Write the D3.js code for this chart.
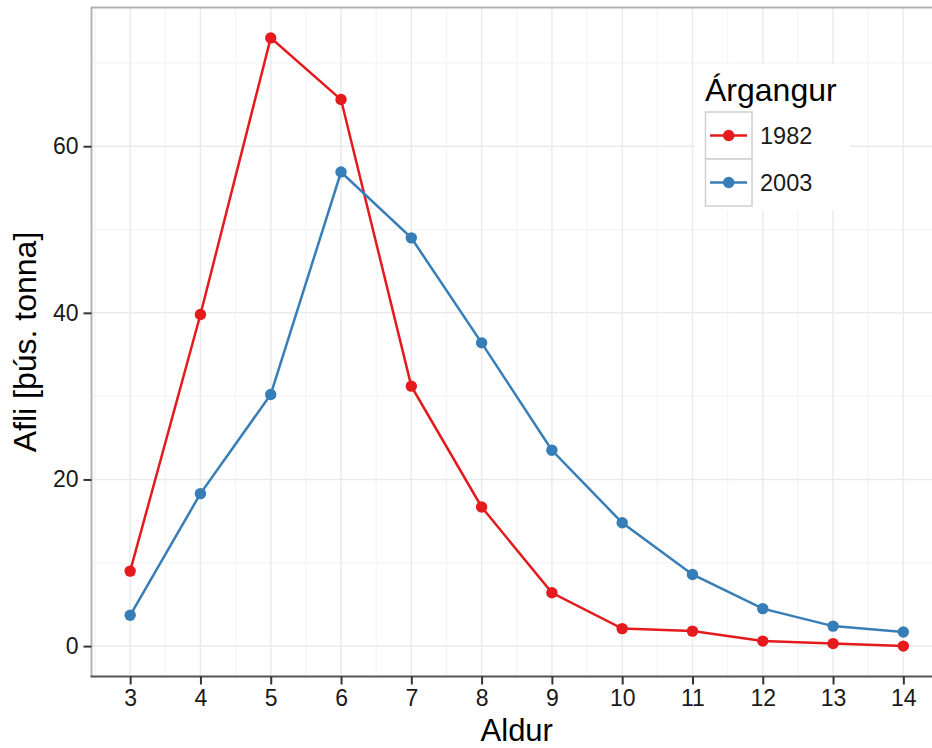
<!DOCTYPE html>
<html>
<head>
<meta charset="utf-8">
<script src="https://cdn.jsdelivr.net/npm/d3@7"></script>
<style>
	body { margin: 0; background: #fff; }
	#viz text { font-family: "Liberation Sans", Arial, sans-serif; }
</style>
</head>
<body>
<div id="viz"></div>
<script>
"use strict";

var ages = [3, 4, 5, 6, 7, 8, 9, 10, 11, 12, 13, 14];
var catch1982 = [9.0, 39.8, 73.0, 65.6, 31.2, 16.7, 6.4, 2.1, 1.8, 0.6, 0.3, 0.0];
var catch2003 = [3.7, 18.3, 30.2, 56.9, 49.0, 36.4, 23.5, 14.8, 8.6, 4.5, 2.4, 1.7];
var yearClasses = ["1982", "2003"];
var yTicks = [0, 20, 40, 60];
var yMinor = [10, 30, 50, 70];

var width = 932,
	height = 748,
	colors = ["#E41A1C", "#377EB8"],
	series = [catch1982, catch2003];

var svg = d3.select("#viz")
	.append("svg")
	.attr("width", width)
	.attr("height", height)

// panel runs past the right edge, like the original image
var x = d3.scaleLinear().domain([2.45, 14.55]).range([91.5, 942]);
var y = d3.scaleLinear().domain([-3.65, 76.65]).range([676.5, 7.5]);

var panel = svg.append("g");

panel.append("rect")
	.attr("x", x.range()[0])
	.attr("y", y.range()[1])
	.attr("width", x.range()[1] - x.range()[0])
	.attr("height", y.range()[0] - y.range()[1])
	.attr("fill", "#fff")

var xMinor = ages.map(function(a) { return a + 0.5 }).concat([2.5]);

panel.selectAll("line.minor-x")
	.data(xMinor)
	.enter().append("line")
	.attr("x1", function(d) { return x(d) })
	.attr("x2", function(d) { return x(d) })
	.attr("y1", y.range()[0])
	.attr("y2", y.range()[1])
	.attr("stroke", "#f5f5f5")
	.attr("stroke-width", 1.3)

panel.selectAll("line.minor-y")
	.data(yMinor)
	.enter().append("line")
	.attr("x1", x.range()[0])
	.attr("x2", x.range()[1])
	.attr("y1", function(d) { return y(d) })
	.attr("y2", function(d) { return y(d) })
	.attr("stroke", "#f5f5f5")
	.attr("stroke-width", 1.3)

panel.selectAll("line.major-x")
	.data(ages)
	.enter().append("line")
	.attr("x1", function(d) { return x(d) })
	.attr("x2", function(d) { return x(d) })
	.attr("y1", y.range()[0])
	.attr("y2", y.range()[1])
	.attr("stroke", "#ebebeb")
	.attr("stroke-width", 1.5)

panel.selectAll("line.major-y")
	.data(yTicks)
	.enter().append("line")
	.attr("x1", x.range()[0])
	.attr("x2", x.range()[1])
	.attr("y1", function(d) { return y(d) })
	.attr("y2", function(d) { return y(d) })
	.attr("stroke", "#ebebeb")
	.attr("stroke-width", 1.5)

// lines and points
var line = d3.line()
	.x(function(d, i) { return x(ages[i]) })
	.y(function(d) { return y(d) })

series.forEach(function(values, s) {
	panel.append("path")
		.attr("d", line(values))
		.attr("fill", "none")
		.attr("stroke", colors[s])
		.attr("stroke-width", 2.5)

	panel.selectAll("circle.s" + s)
		.data(values)
		.enter().append("circle")
		.attr("cx", function(d, i) { return x(ages[i]) })
		.attr("cy", function(d) { return y(d) })
		.attr("r", 5.7)
		.attr("fill", colors[s])
})

// border: top and left light grey, bottom axis line dark
panel.append("path")
	.attr("d", "M" + x.range()[0] + "," + y.range()[0] + "V" + y.range()[1] + "H" + x.range()[1])
	.attr("fill", "none")
	.attr("stroke", "#b3b3b3")
	.attr("stroke-width", 2)

panel.append("line")
	.attr("x1", x.range()[0] - 1)
	.attr("x2", x.range()[1])
	.attr("y1", y.range()[0])
	.attr("y2", y.range()[0])
	.attr("stroke", "#555")
	.attr("stroke-width", 2.2)

// axes
var xAxis = svg.append("g")
	.attr("transform", "translate(0," + y.range()[0] + ")")
	.call(d3.axisBottom(x).tickValues(ages).tickSize(8).tickPadding(5))

var yAxis = svg.append("g")
	.attr("transform", "translate(" + x.range()[0] + ",0)")
	.call(d3.axisLeft(y).tickValues(yTicks).tickSize(8).tickPadding(5))

xAxis.select(".domain").remove()
yAxis.select(".domain").remove()

svg.selectAll(".tick line")
	.attr("stroke", "#333")
	.attr("stroke-width", 2)
svg.selectAll(".tick text")
	.attr("fill", "#1a1a1a")
	.attr("font-size", "23px")

// axis titles
svg.append("text")
	.attr("x", (x.range()[0] + x.range()[1]) / 2)
	.attr("y", 741)
	.attr("text-anchor", "middle")
	.attr("font-size", "31px")
	.attr("fill", "#000")
	.text("Aldur")

svg.append("text")
	.attr("transform", "translate(36," + (y.range()[0] + y.range()[1]) / 2 + ") rotate(-90)")
	.attr("text-anchor", "middle")
	.attr("font-size", "32px")
	.attr("fill", "#000")
	.text("Afli [þús. tonna]")

// legend
var legend = svg.append("g")

legend.append("rect")
	.attr("x", 695)
	.attr("y", 64)
	.attr("width", 155)
	.attr("height", 146)
	.attr("fill", "#fff")

legend.append("text")
	.attr("x", 705)
	.attr("y", 101)
	.attr("font-size", "32px")
	.attr("fill", "#000")
	.text("Árgangur")

yearClasses.forEach(function(label, i) {
	var top = 112 + i * 47;
	legend.append("rect")
		.attr("x", 705.5)
		.attr("y", top)
		.attr("width", 46.5)
		.attr("height", 47)
		.attr("fill", "#fff")
		.attr("stroke", "#d0d0d0")
		.attr("stroke-width", 1.5)
	legend.append("line")
		.attr("x1", 710)
		.attr("x2", 747)
		.attr("y1", top + 23.5)
		.attr("y2", top + 23.5)
		.attr("stroke", colors[i])
		.attr("stroke-width", 2.5)
	legend.append("circle")
		.attr("cx", 728.7)
		.attr("cy", top + 23.5)
		.attr("r", 5.7)
		.attr("fill", colors[i])
	legend.append("text")
		.attr("x", 760)
		.attr("y", top + 23.5)
		.attr("dy", "0.36em")
		.attr("font-size", "23.5px")
		.attr("fill", "#1a1a1a")
		.text(label)
})
</script>
</body>
</html>
